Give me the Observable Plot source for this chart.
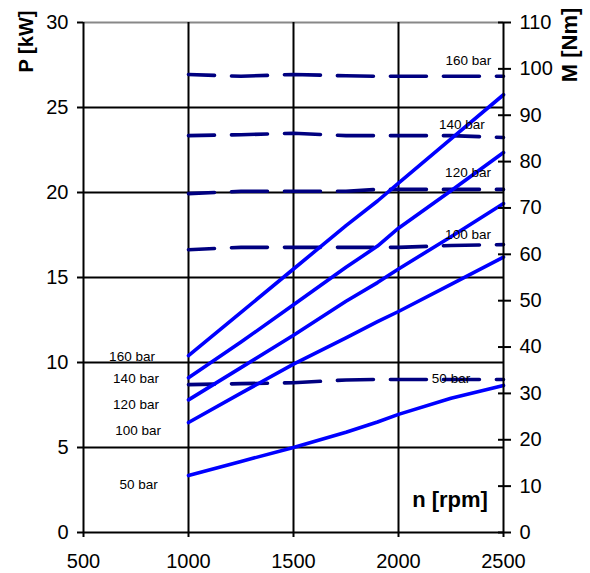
<!DOCTYPE html>
<html><head><meta charset="utf-8">
<script src="https://cdn.jsdelivr.net/npm/d3@7"></script>
<script src="https://cdn.jsdelivr.net/npm/@observablehq/plot@0.6"></script>
<style>
html,body{margin:0;padding:0;background:#fff;}
#chart svg{display:block;}
</style></head><body><div id="chart"></div>
<script>
// speed points (rpm)
const rpm = [1000, 1250, 1500, 1750, 1900, 2000, 2250, 2500];
const pressures = ["160 bar", "140 bar", "120 bar", "100 bar", "50 bar"];
// power P [kW]
const power160 = [10.4, 12.95, 15.5, 18.05, 19.5, 20.55, 23.15, 25.75];
const power140 = [9.1, 11.2, 13.4, 15.6, 16.85, 17.9, 20.1, 22.35];
const power120 = [7.8, 9.7, 11.6, 13.6, 14.7, 15.5, 17.4, 19.35];
const power100 = [6.47, 8.2, 9.9, 11.45, 12.4, 13.0, 14.6, 16.2];
const power50  = [3.35, 4.18, 5.0, 5.9, 6.5, 6.95, 7.9, 8.65];
// torque M [Nm]
const torque160 = [98.8, 98.4, 98.8, 98.5, 98.4, 98.4, 98.4, 98.4];
const torque140 = [85.6, 85.8, 86.1, 85.6, 85.6, 85.6, 85.6, 85.2];
const torque120 = [73.1, 73.6, 73.6, 73.6, 74.0, 74.0, 74.0, 74.0];
const torque100 = [61.0, 61.5, 61.5, 61.5, 61.5, 61.5, 61.9, 62.1];
const torque50  = [31.9, 32.1, 32.3, 32.9, 33.0, 33.0, 33.0, 33.0];
// ticks
const xTicks = [500, 1000, 1500, 2000, 2500];
const pTicks = [0, 5, 10, 15, 20, 25, 30];
const mTicks = [0, 10, 20, 30, 40, 50, 60, 70, 80, 90, 100, 110];
// pressure label anchors (data units: rpm, kW)
const labelRightN = [2333, 2302, 2331, 2331, 2250];
const labelRightP = [27.76, 24.0, 21.15, 17.53, 9.06];
const labelLeftN  = [731, 750, 750, 760, 762];
const labelLeftP  = [10.35, 9.03, 7.53, 5.97, 2.79];

const P_MAX = 30, M_MAX = 110;
const mToP = m => m * P_MAX / M_MAX;

const powerSeries = [power160, power140, power120, power100, power50];
const torqueSeries = [torque160, torque140, torque120, torque100, torque50];
const powerRows = [], torqueRows = [];
pressures.forEach((p, i) => {
  rpm.forEach((n, j) => {
    powerRows.push({p, n, v: powerSeries[i][j]});
    torqueRows.push({p, n, v: mToP(torqueSeries[i][j])});
  });
});
const labelRows = pressures.flatMap((p, i) => [
  {t: p, n: labelRightN[i], v: labelRightP[i]},
  {t: p, n: labelLeftN[i], v: labelLeftP[i]}
]);

const FONT = "'Liberation Sans', Arial, Helvetica, sans-serif";

const chart = Plot.plot({
  width: 590, height: 573,
  marginLeft: 83, marginRight: 87, marginTop: 22, marginBottom: 41,
  style: {fontFamily: FONT, color: "#000", background: "#fff"},
  x: {domain: [500, 2500]},
  y: {domain: [0, P_MAX]},
  marks: [
    Plot.ruleY(pTicks.filter(d => d > 0 && d < P_MAX), {stroke: "#000", strokeWidth: 2}),
    Plot.ruleY([P_MAX], {stroke: "#888", strokeWidth: 2}),
    Plot.ruleX(xTicks.slice(1, -1), {stroke: "#000", strokeWidth: 2}),
    Plot.line(torqueRows, {x: "n", y: "v", z: "p", stroke: "#000080", strokeWidth: 3.6,
      strokeDasharray: "36,17", strokeDashoffset: 10, curve: "linear"}),
    Plot.line(powerRows, {x: "n", y: "v", z: "p", stroke: "#0000ff", strokeWidth: 3.6, curve: "linear"}),
    Plot.ruleX([xTicks[0], xTicks[xTicks.length - 1]], {stroke: "#000", strokeWidth: 2}),
    Plot.ruleY([0], {stroke: "#000", strokeWidth: 2}),
    Plot.axisX(xTicks, {anchor: "bottom", tickSize: 5, tickPadding: 16.5, fontSize: 20,
      strokeWidth: 2, tickFormat: d => String(d), label: null}),
    Plot.axisY(pTicks, {anchor: "left", tickSize: 6, tickPadding: 9, fontSize: 20,
      strokeWidth: 2, tickFormat: d => String(d), label: null}),
    Plot.axisY(mTicks.map(mToP), {anchor: "right", tickSize: 7, tickPadding: 9, fontSize: 20,
      strokeWidth: 2, tickFormat: d => String(Math.round(d * M_MAX / P_MAX)), label: null}),
    Plot.axisY(mTicks.map(mToP), {anchor: "right", tickSize: 6, dx: -6, strokeWidth: 2,
      tickFormat: () => "", label: null}),
    Plot.text(labelRows, {x: "n", y: "v", text: "t", fontSize: 13.5, fill: "#000"}),
    Plot.text(["P [kW]"], {text: d => d, frameAnchor: "top-left", textAnchor: "middle", lineAnchor: "middle",
      rotate: -90, dx: -57, dy: 19, fontSize: 20, fontWeight: "bold", fill: "#000"}),
    Plot.text(["M [Nm]"], {text: d => d, frameAnchor: "top-right", textAnchor: "middle", lineAnchor: "middle",
      rotate: -90, dx: 66.5, dy: 22.5, fontSize: 22, fontWeight: "bold", fill: "#000"}),
    Plot.text(["n [rpm]"], {text: d => d, frameAnchor: "bottom-right", textAnchor: "middle", lineAnchor: "middle",
      dx: -53.5, dy: -33, fontSize: 22, fontWeight: "bold", fill: "#000"})
  ]
});
document.getElementById("chart").appendChild(chart);
</script>
</body></html>
